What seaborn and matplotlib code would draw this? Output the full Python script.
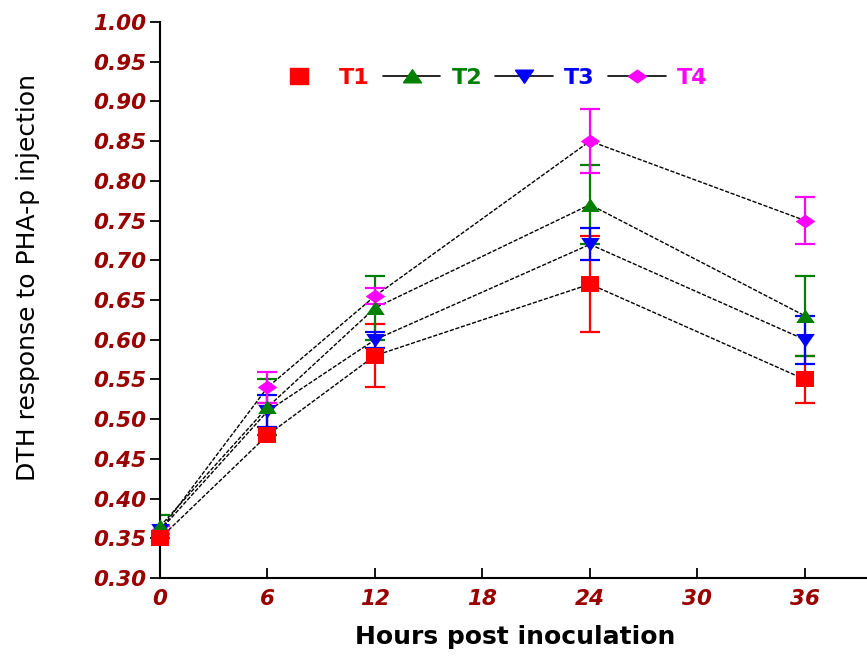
import numpy as np
import pandas as pd
import matplotlib
matplotlib.use("Agg")
import matplotlib.pyplot as plt
from matplotlib.lines import Line2D
import seaborn as sns

# hours post inoculation
hours = [0, 6, 12, 24, 36]

# mean DTH response per treatment
t1 = [0.35, 0.48, 0.58, 0.67, 0.55]
t2 = [0.365, 0.515, 0.64, 0.77, 0.63]
t3 = [0.36, 0.51, 0.60, 0.72, 0.60]
t4 = [0.36, 0.54, 0.655, 0.85, 0.75]

# error bars (lower, upper)
t1_lo = [0.0, 0.0, 0.04, 0.06, 0.03]
t1_hi = [0.0, 0.04, 0.04, 0.06, 0.03]
t2_err = [0.015, 0.035, 0.04, 0.05, 0.05]
t3_err = [0.005, 0.02, 0.01, 0.02, 0.03]
t4_err = [0.005, 0.02, 0.01, 0.04, 0.03]

labels = ["T1", "T2", "T3", "T4"]
colors = ["#ff0000", "#008000", "#0000ff", "#ff00ff"]
tick_red = "#990000"

# slightly squat marker shapes, like the original bitmap
sq = [(-1, -0.85), (1, -0.85), (1, 0.85), (-1, 0.85), (-1, -0.85)]
up = [(-1, -0.7), (1, -0.7), (0, 0.75), (-1, -0.7)]
down = [(-1, 0.7), (1, 0.7), (0, -0.75), (-1, 0.7)]
diam = [(-1, 0), (0, 0.7), (1, 0), (0, -0.7), (-1, 0)]
markers = [sq, up, down, diam]


def main():
    series = [t1, t2, t3, t4]
    errs = [[t1_lo, t1_hi], [t2_err, t2_err], [t3_err, t3_err], [t4_err, t4_err]]

    df = pd.DataFrame({
        "Hours": hours * 4,
        "Value": t1 + t2 + t3 + t4,
        "Group": [lab for lab in labels for _ in hours],
    })

    sns.set_style("ticks")
    plt.rcParams["font.family"] = ["DejaVu Sans"]
    fig = plt.figure(figsize=(8.67, 6.63), dpi=100)
    ax = fig.add_axes([0.1845, 0.128, 0.8155, 0.839])

    # black dashed connecting lines
    sns.lineplot(data=df, x="Hours", y="Value", units="Group", estimator=None,
                 color="black", linewidth=1.0, ax=ax, legend=False, zorder=1)
    for line in ax.get_lines():
        line.set_linestyle((0, (3, 1.2)))

    # error bars
    for vals, err, col in zip(series, errs, colors):
        ax.errorbar(hours, vals, yerr=np.array(err), fmt="none", ecolor=col,
                    elinewidth=1.6, capsize=7, capthick=1.6, zorder=2)

    # markers, T4 first so T1 ends on top
    for i in [3, 2, 1, 0]:
        sub = df[df["Group"] == labels[i]]
        sns.scatterplot(data=sub, x="Hours", y="Value", color=colors[i],
                        marker=markers[i], s=180 if i < 3 else 200, linewidth=0,
                        ax=ax, legend=False, zorder=3 + (3 - i), clip_on=False)

    ax.set_xlim(0, 39.46)
    ax.set_ylim(0.30, 1.00)
    ax.set_xticks([0, 6, 12, 18, 24, 30, 36])
    ax.set_yticks(np.arange(0.30, 1.001, 0.05))
    ax.yaxis.set_major_formatter(matplotlib.ticker.FormatStrFormatter("%.2f"))

    sns.despine(ax=ax)
    ax.spines["left"].set_linewidth(1.5)
    ax.spines["bottom"].set_linewidth(1.5)
    ax.spines["left"].set_color("black")
    ax.spines["bottom"].set_color("black")
    ax.tick_params(axis="both", colors="black")
    ax.tick_params(axis="y", direction="out", length=7, width=1.3, pad=3)
    ax.tick_params(axis="x", direction="in", length=7, width=1.3, pad=8)
    for lab in ax.get_xticklabels() + ax.get_yticklabels():
        lab.set_color(tick_red)
        lab.set_fontsize(15.5)
        lab.set_fontweight("bold")
        lab.set_fontstyle("italic")

    ax.set_xlabel("Hours post inoculation", fontsize=18, fontweight="bold",
                  color="black")
    ax.xaxis.set_label_coords(0.503, -0.085)
    ax.set_ylabel("DTH response to PHA-p injection", fontsize=18, color="black")
    ax.yaxis.set_label_coords(-0.17, 0.54)

    # legend
    handles = []
    for i, (lab, col, mk) in enumerate(zip(labels, colors, markers)):
        ls = "none" if i == 0 else "-"
        handles.append(Line2D([], [], color="black", linestyle=ls, linewidth=1.2,
                              marker=mk, markerfacecolor=col, markeredgecolor=col,
                              markersize=13))
    leg = ax.legend(handles, labels, loc="center", bbox_to_anchor=(0.465, 0.9),
                    ncol=4, frameon=False, handlelength=2.6, columnspacing=0.6,
                    handletextpad=0.5, prop={"weight": "bold", "size": 16})
    for txt, col in zip(leg.get_texts(), colors):
        txt.set_color(col)

    fig.savefig("out.png", dpi=100)


if __name__ == "__main__":
    main()
